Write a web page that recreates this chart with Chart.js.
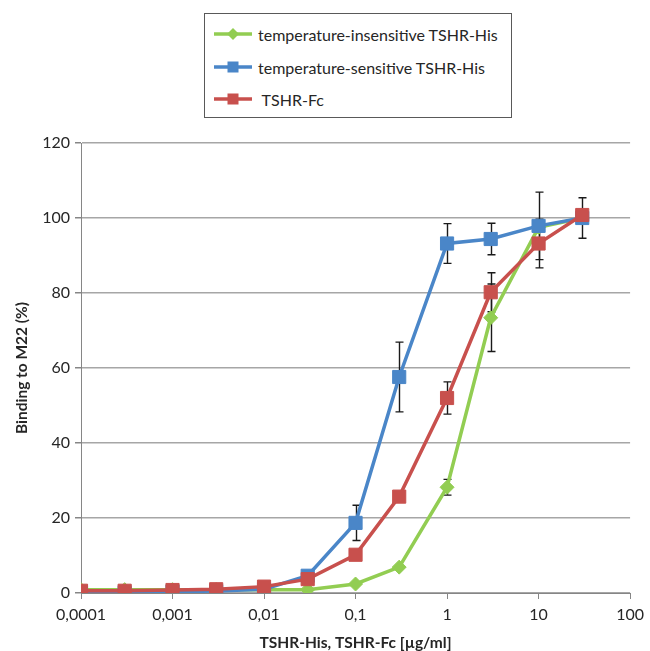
<!DOCTYPE html>
<html lang="en">
<head>
<meta charset="UTF-8">
<title>Binding to M22</title>
<script src="https://cdn.jsdelivr.net/npm/chart.js"></script>
<style>
  body { margin: 0; background: #fff; font-family: Lato, sans-serif; }
  #wrap { position: relative; width: 650px; height: 651px; }
  #legend {
    position: absolute; left: 204px; top: 13px; width: 308px; height: 105px;
    box-sizing: border-box; border: 1px solid #595959; background: #fff;
  }
  .item {
    position: absolute; left: 9px; height: 20px;
    display: flex; align-items: center;
    font-size: 16px; color: #262626; white-space: pre;
  }
  .item svg { margin-right: 6px; }
</style>
</head>
<body>
<div id="wrap">
  <canvas id="chart" width="650" height="651"></canvas>
  <div id="legend"></div>
</div>

<script>
// concentrations (µg/ml) and binding to M22 (%)
const concentrations = [0.0001, 0.0003, 0.001, 0.003, 0.01, 0.03, 0.1, 0.3, 1, 3, 10, 30];

const insensitiveHis = [0.9, 0.9, 0.9, 0.9, 0.9, 0.9, 2.4, 6.9, 28.2, 73.4, 97.5, 100.0];
const insensitiveErr = [0, 0, 0, 0, 0, 0, 0, 0, 2.1, 9.0, 0, 0];

const sensitiveHis = [0.2, 0.2, 0.4, 0.5, 1.0, 4.6, 18.7, 57.6, 93.2, 94.4, 97.9, 100.0];
const sensitiveErr = [0, 0, 0, 0, 0, 0, 4.7, 9.3, 5.3, 4.2, 9.0, 5.4];

const tshrFc = [0.6, 0.6, 0.8, 1.0, 1.7, 3.7, 10.2, 25.7, 52.0, 80.2, 93.2, 100.8];
const tshrFcErr = [0, 0, 0, 0, 0, 0, 0, 0, 4.3, 5.2, 6.5, 0];

const xTickValues = [0.0001, 0.001, 0.01, 0.1, 1, 10, 100];
const xTickLabels = ['0,0001', '0,001', '0,01', '0,1', '1', '10', '100'];

const seriesNames = ['temperature-insensitive TSHR-His', 'temperature-sensitive TSHR-His', ' TSHR-Fc'];
const seriesColors = ['#92CD52', '#4A86C8', '#C8504D'];

const textColor = '#262626';
const fontFamily = 'Lato, sans-serif';

function points(values) {
    return values.map((v, i) => ({ x: concentrations[i], y: v }));
}

// error bars drawn under the markers
const errorBars = {
    id: 'errorBars',
    beforeDatasetsDraw(chart) {
        const ctx = chart.ctx;
        const xs = chart.scales.x, ys = chart.scales.y;
        ctx.save();
        ctx.strokeStyle = '#1a1a1a';
        ctx.lineWidth = 1.4;
        chart.data.datasets.forEach(ds => {
            ds.errors.forEach((e, i) => {
                if (!e) return;
                const px = Math.round(xs.getPixelForValue(concentrations[i])) + 0.5;
                const top = ys.getPixelForValue(ds.data[i].y + e);
                const bot = ys.getPixelForValue(ds.data[i].y - e);
                ctx.beginPath();
                ctx.moveTo(px, top); ctx.lineTo(px, bot);
                ctx.moveTo(px - 4, top); ctx.lineTo(px + 4, top);
                ctx.moveTo(px - 4, bot); ctx.lineTo(px + 4, bot);
                ctx.stroke();
            });
        });
        ctx.restore();
    }
};

function makeDataset(i, values, errors, style, radius, order) {
    return {
        label: seriesNames[i],
        data: points(values),
        errors: errors,
        borderColor: seriesColors[i],
        backgroundColor: seriesColors[i],
        pointBackgroundColor: seriesColors[i],
        pointBorderColor: seriesColors[i],
        pointBorderWidth: 1,
        borderWidth: 3.5,
        tension: 0,
        pointStyle: style,
        pointRadius: radius,
        order: order
    };
}

const ctx = document.getElementById('chart').getContext('2d');
new Chart(ctx, {
    type: 'line',
    data: {
        datasets: [
            makeDataset(0, insensitiveHis, insensitiveErr, 'rectRot', 7, 2),
            makeDataset(1, sensitiveHis, sensitiveErr, 'rect', 9.3, 1),
            makeDataset(2, tshrFc, tshrFcErr, 'rect', 9.3, 0)
        ]
    },
    options: {
        responsive: false,
        animation: false,
        layout: { padding: { top: 143, right: 16, left: 0, bottom: 0 } },
        plugins: { legend: { display: false }, tooltip: { enabled: false } },
        scales: {
            x: {
                type: 'logarithmic',
                min: 0.0001,
                max: 100,
                afterBuildTicks: s => { s.ticks = xTickValues.map(v => ({ value: v })); },
                afterFit: s => { s.height = 58; },
                ticks: {
                    callback: (v, i) => xTickLabels[i],
                    autoSkip: false, maxRotation: 0, padding: 6,
                    color: textColor, font: { family: fontFamily, size: 16 }
                },
                grid: { drawOnChartArea: false, drawTicks: true, tickLength: 6, color: '#868686' },
                border: { color: '#868686', width: 1 },
                title: {
                    display: true, text: 'TSHR-His, TSHR-Fc [µg/ml]', color: textColor,
                    font: { family: fontFamily, size: 15.5, weight: 'bold', lineHeight: 1 },
                    padding: { top: 0, bottom: 0 }
                }
            },
            y: {
                min: 0,
                max: 120,
                afterFit: s => { s.width = 81; },
                ticks: { stepSize: 20, padding: 5, color: textColor, font: { family: fontFamily, size: 16 } },
                grid: { color: '#A6A6A6', lineWidth: 1.5, tickColor: '#868686', tickLength: 6 },
                border: { color: '#868686', width: 1 },
                title: {
                    display: true, text: 'Binding to M22 (%)', color: textColor,
                    font: { family: fontFamily, size: 15.5, weight: 'bold' },
                    padding: { top: 13, bottom: 0 }
                }
            }
        }
    },
    plugins: [errorBars]
});

// legend box
const legend = document.getElementById('legend');
const rowTops = [10, 43, 75];
seriesNames.forEach((name, i) => {
    const c = seriesColors[i];
    const marker = i === 0
        ? `<polygon points="19,4 25,10 19,16 13,10" fill="${c}"/>`
        : `<rect x="13.5" y="4.5" width="11" height="11" fill="${c}"/>`;
    const item = document.createElement('div');
    item.className = 'item';
    item.style.top = rowTops[i] + 'px';
    item.innerHTML = `<svg width="38" height="20"><line x1="0" y1="10" x2="38" y2="10" stroke="${c}" stroke-width="3.5"/>${marker}</svg><span>${name}</span>`;
    legend.appendChild(item);
});
</script>
</body>
</html>
